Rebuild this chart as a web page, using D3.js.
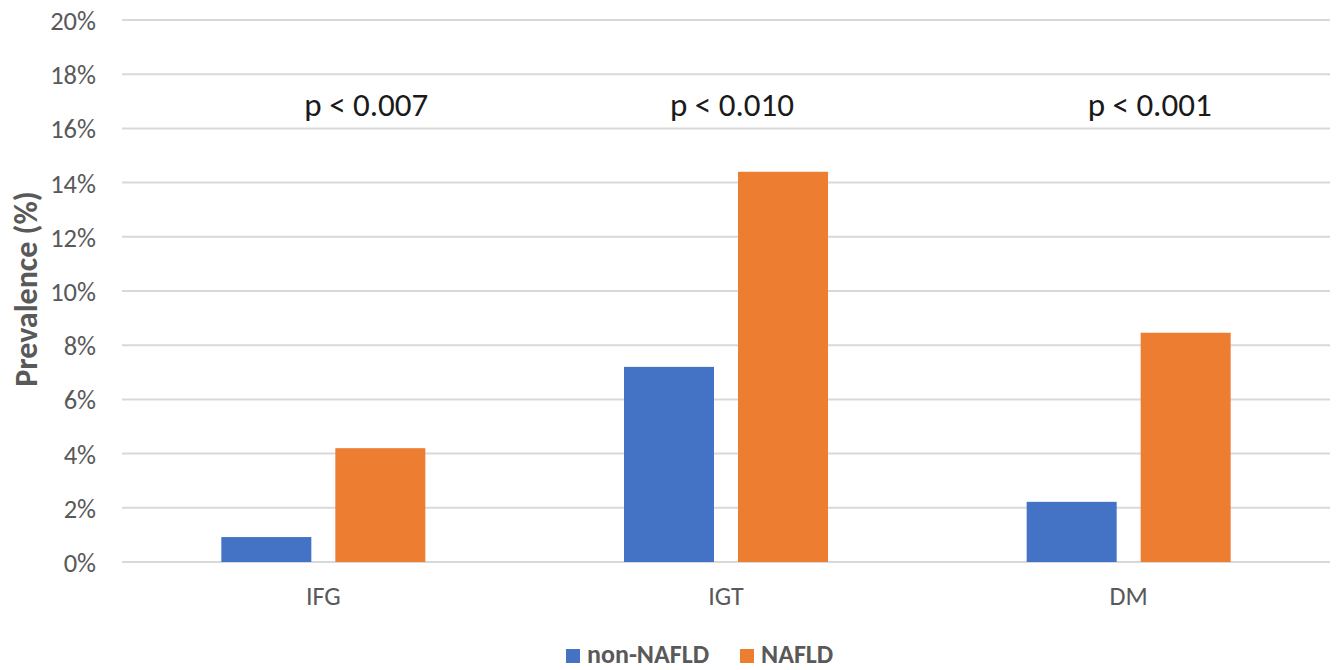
<!DOCTYPE html>
<html><head><meta charset="utf-8">
<script src="https://cdn.jsdelivr.net/npm/d3@7"></script>
<style>
body{margin:0;background:#fff;}
text{font-family:Carlito,Lato,"Open Sans",sans-serif;}
</style></head>
<body><svg id="c" width="1336" height="670"></svg>
<script>
const categories = ["IFG", "IGT", "DM"];
const seriesNames = ["non-NAFLD", "NAFLD"];
const nonNafld = [0.92, 7.2, 2.22];
const nafld = [4.2, 14.4, 8.46];
const pLabels = ["p < 0.007", "p < 0.010", "p < 0.001"];
const yTicks = [0, 2, 4, 6, 8, 10, 12, 14, 16, 18, 20];
const colors = ["#4472C4", "#ED7D31"];

(function () {
const FF = "Carlito,Lato,'Open Sans',sans-serif";
const svg = d3.select("#c");
const pl = 122, pr = 1330, pt = 20, pb = 562;
const y = d3.scaleLinear().domain([0, 20]).range([pb, pt]);
const x0 = d3.scaleBand().domain(categories).range([pl, pr]);
const x1 = d3.scaleBand().domain(seriesNames).range([-102, 102]).paddingInner(0.2105);

// gridlines
svg.append("g").selectAll("line").data(yTicks).join("line")
  .attr("x1", pl).attr("x2", pr)
  .attr("y1", d => y(d)).attr("y2", d => y(d))
  .attr("stroke", "#d9d9d9").attr("stroke-width", 2);

// y axis labels
const yAxis = d3.axisLeft(y).tickValues(yTicks).tickFormat(d => d + "%").tickSize(0).tickPadding(0);
const ga = svg.append("g").attr("transform", `translate(96,0)`).call(yAxis);
ga.attr("font-size", null).attr("font-family", null);
ga.select(".domain").remove();
ga.selectAll("text").style("font-size", "26.5px").attr("fill", "#595959")
  .attr("dy", "0.36em").style("font-family", FF);

// y title
svg.append("text").attr("transform", "translate(37,289) rotate(-90)")
  .attr("text-anchor", "middle").style("font-size", "32px").attr("font-weight", "bold")
  .attr("fill", "#595959").text("Prevalence (%)");

// bars
const data = categories.map((c, i) => ({c, vals: [nonNafld[i], nafld[i]]}));
const groups = svg.append("g").selectAll("g").data(data).join("g")
  .attr("transform", d => `translate(${x0(d.c) + x0.bandwidth() / 2},0)`);
groups.selectAll("rect").data(d => d.vals.map((v, j) => ({v, s: seriesNames[j], j})))
  .join("rect")
  .attr("x", d => x1(d.s)).attr("width", x1.bandwidth())
  .attr("y", d => y(d.v)).attr("height", d => pb - y(d.v))
  .attr("fill", d => colors[d.j]);

// category labels
const xAxis = d3.axisBottom(x0).tickSize(0).tickPadding(0);
const gx = svg.append("g").attr("transform", `translate(0,605)`).call(xAxis);
gx.attr("font-size", null).attr("font-family", null);
gx.select(".domain").remove();
gx.selectAll("text").style("font-size", "26px").attr("fill", "#595959")
  .attr("dy", "0").attr("y", 0).style("font-family", FF);

// p labels
const pOffset = [43, 6, 21];
svg.append("g").selectAll("text").data(pLabels).join("text")
  .attr("x", (d, i) => x0(categories[i]) + x0.bandwidth() / 2 + pOffset[i])
  .attr("y", 116).attr("text-anchor", "middle")
  .style("font-size", "33px").attr("fill", "#1a1a1a").text(d => d);

// legend
const leg = svg.append("g").attr("transform", "translate(566,649)");
const legX = [0, 174];
seriesNames.forEach((s, i) => {
  leg.append("rect").attr("x", legX[i]).attr("y", 0).attr("width", 14).attr("height", 14).attr("fill", colors[i]);
  leg.append("text").attr("x", legX[i] + 21).attr("y", 14).style("font-size", "26px")
    .attr("font-weight", "bold").attr("fill", "#595959").text(s);
});
})();
</script></body></html>
